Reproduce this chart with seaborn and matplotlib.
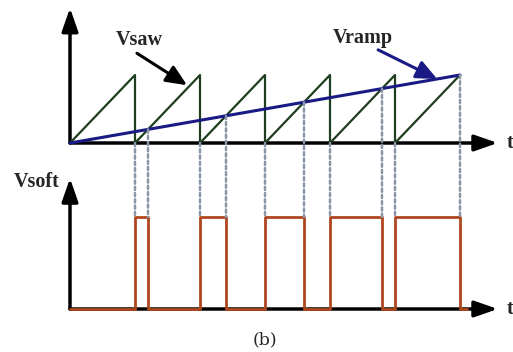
import numpy as np
import pandas as pd
import matplotlib
matplotlib.use("Agg")
import matplotlib.pyplot as plt
from matplotlib.patches import ConnectionPatch
import seaborn as sns

sns.set_style("white")

# sawtooth (one unit period, unit amplitude)
saw_t = [0, 1, 1, 2, 2, 3, 3, 4, 4, 5, 5, 6]
saw_v = [0, 1, 0, 1, 0, 1, 0, 1, 0, 1, 0, 1]

# slow ramp
ramp_t = [0, 6]
ramp_v = [0, 1]

# Vsoft pulses (high from saw reset to ramp crossing)
pulse_t = [0, 1, 1, 1.2, 1.2, 2, 2, 2.4, 2.4, 3, 3, 3.6, 3.6, 4, 4, 4.8, 4.8, 5, 5, 6, 6, 6.1]
pulse_v = [0, 0, 1, 1, 0, 0, 1, 1, 0, 0, 1, 1, 0, 0, 1, 1, 0, 0, 1, 1, 0, 0]

reset_t = [1, 2, 3, 4, 5]
reset_v = [0, 0, 0, 0, 0]
cross_t = [1.2, 2.4, 3.6, 4.8, 6]
cross_v = [0.2, 0.4, 0.6, 0.8, 1.0]

saw_col = "#1f3d1f"
ramp_col = "#1a1a85"
pulse_col = "#b0461e"
dash_col = "#8a96a8"

W, H = 513, 352
fig = plt.figure(figsize=(W / 100, H / 100), dpi=100)

ax1 = fig.add_axes([70 / W, (H - 143) / H, 429 / W, 135 / H])
ax2 = fig.add_axes([70 / W, (H - 309) / H, 429 / W, 131 / H])
ax1.set_xlim(0, 6.6)
ax1.set_ylim(0, 135 / 68)
ax2.set_xlim(0, 6.6)
ax2.set_ylim(0, 131 / 92)
for ax in (ax1, ax2):
    ax.axis("off")

saw = pd.DataFrame({"t": saw_t, "v": saw_v})
ramp = pd.DataFrame({"t": ramp_t, "v": ramp_v})
pulse = pd.DataFrame({"t": pulse_t, "v": pulse_v})

sns.lineplot(data=saw, x="t", y="v", sort=False, estimator=None, ax=ax1,
             color=saw_col, lw=1.6, zorder=3)
sns.lineplot(data=ramp, x="t", y="v", sort=False, estimator=None, ax=ax1,
             color=ramp_col, lw=2.2, zorder=4)
sns.lineplot(data=pulse, x="t", y="v", sort=False, estimator=None, ax=ax2,
             color=pulse_col, lw=2.0, zorder=4)
for ax in (ax1, ax2):
    for line in ax.lines:
        line.set_clip_on(False)

# axes arrows
arr = dict(arrowstyle="-|>,head_length=1.0,head_width=0.35", lw=2.5,
           color="black", shrinkA=0, shrinkB=0, mutation_scale=14)
ax1.annotate("", xy=(6.58, 0), xytext=(0, 0), arrowprops=arr, annotation_clip=False, zorder=2)
ax1.annotate("", xy=(0, 1.985), xytext=(0, 0), arrowprops=arr, annotation_clip=False, zorder=2)
ax2.annotate("", xy=(6.58, 0), xytext=(0, 0), arrowprops=arr, annotation_clip=False, zorder=2)
ax2.annotate("", xy=(0, 1.42), xytext=(0, 0), arrowprops=arr, annotation_clip=False, zorder=2)

# dashed guide lines from top panel down to the pulses
for t, v in zip(reset_t + cross_t, reset_v + cross_v):
    con = ConnectionPatch(xyA=(t, v), coordsA="data", axesA=ax1,
                          xyB=(t, 1), coordsB="data", axesB=ax2,
                          color=dash_col, lw=1.8, linestyle=(0, (1.3, 1.2)), zorder=1)
    fig.add_artist(con)

font = dict(family="Liberation Serif", weight="bold", fontsize=14.5)
ax1.text(1.06, 1.52, "Vsaw", ha="center", va="center", **font)
ax1.text(4.5, 1.55, "Vramp", ha="center", va="center", **font)
ax1.text(6.77, 0, "t", ha="center", va="center", **font)
ax2.text(-0.51, 1.38, "Vsoft", ha="center", va="center", **font)
ax2.text(6.77, 0, "t", ha="center", va="center", **font)

ax1.annotate("", xy=(1.8, 0.85), xytext=(1.03, 1.32), annotation_clip=False,
             arrowprops=dict(arrowstyle="-|>,head_length=0.9,head_width=0.4", lw=2.2,
                             color="black", shrinkA=0, shrinkB=0, mutation_scale=14))
ax1.annotate("", xy=(5.65, 0.94), xytext=(4.74, 1.37), annotation_clip=False,
             arrowprops=dict(arrowstyle="-|>,head_length=0.9,head_width=0.4", lw=2.2,
                             color=ramp_col, shrinkA=0, shrinkB=0, mutation_scale=14))

fig.text(265 / W, (H - 340) / H, "(b)", ha="center", va="center",
         family="DejaVu Serif", fontsize=12.5)

fig.savefig("out.png", dpi=100)
